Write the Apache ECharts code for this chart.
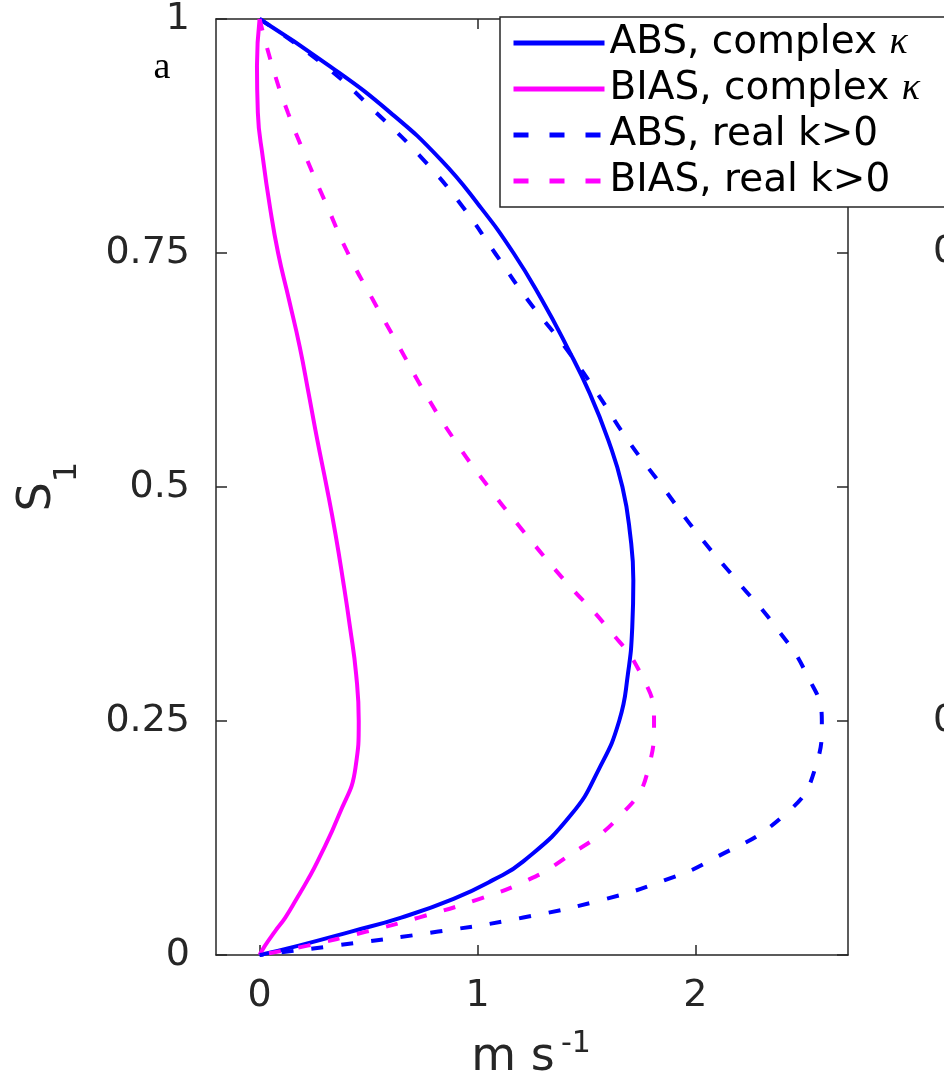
<!DOCTYPE html>
<html>
<head>
<meta charset="utf-8">
<script src="https://cdn.jsdelivr.net/npm/echarts@6/dist/echarts.min.js"></script>
<style>
html,body{margin:0;padding:0;background:#fff;}
#chart{width:944px;height:1083px;}
</style>
</head>
<body>
<div id="chart"></div>
<script>
// S levels (vertical coordinate)
const sLevels = [1, 0.95, 0.9, 0.85, 0.8, 0.75, 0.7, 0.65, 0.6, 0.55, 0.5, 0.45, 0.4, 0.35, 0.3, 0.25, 0.2, 0.15, 0.1, 0.08, 0.06, 0.04, 0.025, 0.01, 0];
// values in m s^-1 at each S level
const absComplex  = [0, 0.32, 0.60, 0.83, 1.01, 1.165, 1.295, 1.41, 1.515, 1.60, 1.665, 1.70, 1.715, 1.71, 1.69, 1.65, 1.56, 1.43, 1.21, 1.07, 0.89, 0.65, 0.42, 0.18, 0];
const biasComplex = [0, -0.012, -0.008, 0.016, 0.047, 0.085, 0.135, 0.184, 0.225, 0.265, 0.308, 0.348, 0.383, 0.415, 0.443, 0.455, 0.44, 0.365, 0.266, 0.22, 0.17, 0.118, 0.07, 0.025, 0];
const absReal     = [0, 0.30, 0.535, 0.75, 0.93, 1.08, 1.23, 1.40, 1.55, 1.69, 1.85, 2.01, 2.19, 2.37, 2.51, 2.58, 2.55, 2.41, 2.06, 1.86, 1.59, 1.21, 0.82, 0.345, 0];
const biasReal    = [0, 0.058, 0.13, 0.217, 0.31, 0.405, 0.52, 0.64, 0.76, 0.895, 1.05, 1.22, 1.40, 1.595, 1.75, 1.81, 1.785, 1.66, 1.38, 1.23, 1.01, 0.73, 0.49, 0.22, 0];
const seriesNames = ['ABS, complex κ', 'BIAS, complex κ', 'ABS, real k>0', 'BIAS, real k>0'];
const xTicks = [0, 1, 2];
const rightPanelLabels = ['0.75', '0.25'];

const FONT = 'DejaVu Sans';
const AX = '#262626';
const BLUE = '#0000ff';
const MAG = '#ff00ff';

function pairs(xs) { return xs.map((v, i) => [v, sLevels[i]]); }

const chart = echarts.init(document.getElementById('chart'), null, {renderer: 'canvas'});

const axisCommon = {
  axisLine: {show: true, onZero: false, lineStyle: {color: AX, width: 1.5}},
  splitLine: {show: false}
};

function mkSeries(name, xs, color, dashed) {
  return {
    name: name, type: 'line', data: pairs(xs), symbol: 'none', showSymbol: false, smooth: 0.5,
    lineStyle: {color: color, width: 4, type: dashed ? [12, 18] : 'solid', cap: 'butt'},
    itemStyle: {color: color}, emphasis: {disabled: true}, z: 2
  };
}

const legendData = seriesNames.map(function (n, i) {
  const item = {name: n};
  if (i >= 2) item.lineStyle = {type: [15, 21], width: 5};
  return item;
});

const option = {
  animation: false,
  backgroundColor: '#fff',
  grid: {left: 216, right: 96, top: 17, bottom: 128, containLabel: false},
  xAxis: [
    Object.assign({}, axisCommon, {
      type: 'value', position: 'bottom', min: -0.2, max: 2.7,
      axisTick: {show: true, inside: true, length: 10, customValues: xTicks, lineStyle: {color: AX, width: 1.5}},
      axisLabel: {show: true, customValues: xTicks, margin: 22, color: AX, fontFamily: FONT, fontSize: 38}
    }),
    Object.assign({}, axisCommon, {
      type: 'value', position: 'top', min: -0.2, max: 2.7,
      axisTick: {show: true, inside: true, length: 10, customValues: xTicks, lineStyle: {color: AX, width: 1.5}},
      axisLabel: {show: false}
    })
  ],
  yAxis: [
    Object.assign({}, axisCommon, {
      type: 'value', position: 'left', min: 0, max: 1, interval: 0.25,
      axisTick: {show: true, inside: true, length: 11, lineStyle: {color: AX, width: 1.5}},
      axisLabel: {show: true, margin: 26, color: AX, fontFamily: FONT, fontSize: 38, showMinLabel: true, showMaxLabel: true}
    }),
    Object.assign({}, axisCommon, {
      type: 'value', position: 'right', min: 0, max: 1, interval: 0.25,
      axisTick: {show: true, inside: true, length: 11, lineStyle: {color: AX, width: 1.5}},
      axisLabel: {show: false}
    })
  ],
  legend: {
    show: true, orient: 'vertical', left: 500, top: 17,
    itemWidth: 91, itemHeight: 14, itemGap: 6,
    padding: [6, 60, 6, 11],
    borderColor: AX, borderWidth: 1.5, borderRadius: 0,
    backgroundColor: '#ffffff',
    data: legendData,
    itemStyle: {opacity: 0},
    lineStyle: {width: 5},
    formatter: function (name) {
      return name.replace('κ', '{k|κ}');
    },
    textStyle: {
      fontFamily: FONT, fontSize: 39, color: '#000', lineHeight: 40,
      rich: {k: {fontFamily: 'Liberation Serif', fontStyle: 'italic', fontSize: 38, color: '#000', lineHeight: 40}}
    },
    selectedMode: false
  },
  series: [
    mkSeries(seriesNames[0], absComplex, BLUE, false),
    mkSeries(seriesNames[1], biasComplex, MAG, false),
    mkSeries(seriesNames[2], absReal, BLUE, true),
    mkSeries(seriesNames[3], biasReal, MAG, true)
  ],
  graphic: [
    {type: 'text', x: 38, y: 497, rotation: Math.PI / 2,
     style: {text: 'S', fontFamily: FONT, fontSize: 46, fill: AX, align: 'center', verticalAlign: 'middle'}},
    {type: 'text', x: 68, y: 472, rotation: Math.PI / 2,
     style: {text: '1', fontFamily: FONT, fontSize: 32, fill: AX, align: 'center', verticalAlign: 'middle'}},
    {type: 'text', x: 513, y: 1058,
     style: {text: 'm s', fontFamily: FONT, fontSize: 46, fill: AX, align: 'center', verticalAlign: 'middle'}},
    {type: 'text', x: 576, y: 1044,
     style: {text: '-1', fontFamily: FONT, fontSize: 30, fill: AX, align: 'center', verticalAlign: 'middle'}},
    {type: 'text', x: 162, y: 68,
     style: {text: 'a', fontFamily: 'Liberation Serif', fontSize: 38, fill: '#000', align: 'center', verticalAlign: 'middle'}},
    {type: 'text', x: 933, y: 252,
     style: {text: rightPanelLabels[0], fontFamily: FONT, fontSize: 38, fill: AX, align: 'left', verticalAlign: 'middle'}},
    {type: 'text', x: 933, y: 721,
     style: {text: rightPanelLabels[1], fontFamily: FONT, fontSize: 38, fill: AX, align: 'left', verticalAlign: 'middle'}}
  ]
};
chart.setOption(option);
</script>
</body>
</html>
